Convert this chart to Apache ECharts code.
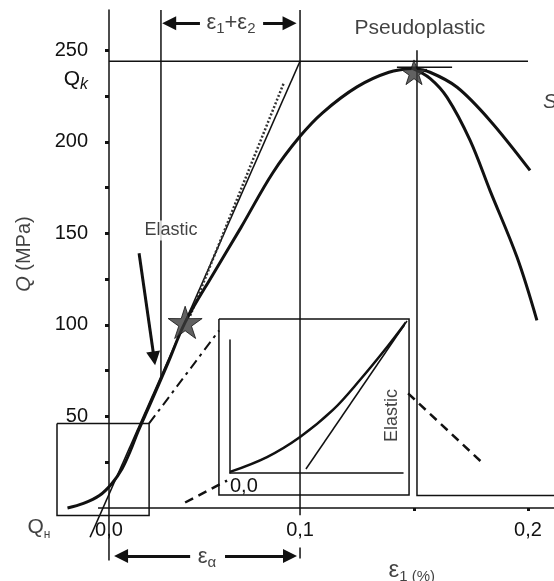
<!DOCTYPE html>
<html>
<head>
<meta charset="utf-8">
<script src="https://cdn.jsdelivr.net/npm/echarts@6/dist/echarts.min.js"></script>
<style>
  html, body { margin: 0; background: #fff; }
  #chart { width: 554px; height: 581px; }
</style>
</head>
<body>
<div id="chart"></div>
<script>
const FONT = '"Liberation Sans", Arial, Helvetica, sans-serif';
const INK = '#111111';

// axis labels and ticks
const xLabelVals = [0.0162, 0.1, 0.2];
const xLabelText = ['0,0', '0,1', '0,2'];
const xTickVals = [0.15, 0.2];
const yLabelVals = [50, 100, 150, 200, 234, 250];
const yLabelText = ['50', '100', '150', '200', '{q|Q}{qk|k}', '250'];
const yTickVals = [25, 50, 75, 100, 125, 150, 175, 200, 225, 250];

// stress-strain curve, eps1 in %, Q in MPa
const riseEps = [-0.002, 0.005, 0.012, 0.0175, 0.022, 0.0255, 0.029, 0.034, 0.042, 0.0496, 0.062, 0.074, 0.088, 0.1, 0.11, 0.125, 0.139, 0.1496];
const riseQ = [0, 2.5, 6.8, 13.4, 21.6, 31, 42, 56, 79, 101.4, 128, 153, 183, 203, 216, 230, 238, 240];
const softEps = [0.1496, 0.157, 0.1689, 0.1833, 0.2009];
const softQ = [240, 238, 229.8, 211.7, 184.4];
const brittleEps = [0.1496, 0.157, 0.1645, 0.1746, 0.1833, 0.1952, 0.2039];
const brittleQ = [240, 234.7, 224.3, 200.8, 173.5, 136.9, 102.5];

// elastic reference lines
const elasticEps = [0.0079, 0.1];
const elasticQ = [-16, 244];
const dottedEps = [0.0518, 0.093];
const dottedQ = [105, 232.5];

// marked points
const starEps = [0.0496, 0.15];
const starQ = [101.4, 238];

// inset, normalised units
const insetX = [0, 0.214, 0.405, 0.595, 0.751, 0.908, 1.023];
const insetY = [0.008, 0.12, 0.271, 0.474, 0.699, 0.947, 1.143];
const insetTanX = [0.439, 1.023];
const insetTanY = [0.03, 1.143];
const insetFrame = [[-0.064, 1.158], [1.035, 1.158], [1.035, -0.165], [-0.064, -0.165], [-0.064, 1.158]];

// construction lines
const guides = [
  [[0.0114, 0], [0.2114, 0]],
  [[0.0162, 0], [0.0162, -28.7]],
  [[0.0162, 244], [0.2, 244]],
  [[0.039, 272], [0.039, 70]],
  [[0.1, 272], [0.1, -4]],
  [[0.1, -21.6], [0.1, -27.6]],
  [[0.1513, 250], [0.1513, 6.8], [0.2114, 6.8]],
  [[0.1425, 240.7], [0.1667, 240.7]],
  [[-0.0066, 46.2], [0.0338, 46.2], [0.0338, -4.1], [-0.0066, -4.1], [-0.0066, 46.2]]
];
const dashDot = [[[0.0338, 46.2], [0.0645, 97]]];
const dashed = [[[0.0496, 3], [0.068, 15]], [[0.1474, 62.6], [0.1803, 24.3]]];
const arrows = [
  [[0.0561, 264.8], [0.0426, 264.8]],
  [[0.0838, 264.8], [0.0954, 264.8]],
  [[0.0518, -26.2], [0.0215, -26.2]],
  [[0.0671, -26.2], [0.0956, -26.2]],
  [[0.0294, 139.1], [0.036, 81.7]]
];

// text notes: text, eps, Q, kind
const notes = [
  ['Pseudoplastic', 0.1526, 262, 'plain'],
  ['Elastic', 0.0434, 151.6, 'boxed'],
  ['Elastic', 0.1404, 50.5, 'vertical'],
  ['S', 0.2066, 221.6, 'left'],
  ['{e|ε}{s|1}{e|+ε}{s|2}', 0.0697, 264.8, 'plain'],
  ['{e|ε}{s|α}', 0.0592, -26.8, 'plain'],
  ['{E|ε}{t|1 (%)}', 0.149, -34, 'plain'],
  ['{qi|Q}{n| (MPa)}', -0.021, 138.7, 'vertical'],
  ['{q|Q}{qn|н}', -0.0145, -10.5, 'plain']
];

const pairs = (xs, ys) => xs.map((x, i) => [x, ys[i]]);
const pick = (vals, texts, v) => {
  const i = vals.findIndex(a => Math.abs(a - v) < 1e-6);
  return i < 0 ? '' : texts[i];
};

const richText = {
  e: { fontSize: 22, lineHeight: 26, fontFamily: FONT, color: INK },
  s: { fontSize: 15, lineHeight: 15, verticalAlign: 'bottom', fontFamily: FONT, color: INK },
  E: { fontSize: 24, lineHeight: 28, fontFamily: FONT, color: INK },
  t: { fontSize: 15, lineHeight: 15, verticalAlign: 'bottom', fontFamily: FONT, color: INK },
  qi: { fontSize: 20, fontStyle: 'italic', fontFamily: FONT, color: INK },
  n: { fontSize: 20, fontFamily: FONT, color: INK },
  q: { fontSize: 21, lineHeight: 26, fontFamily: FONT, color: INK },
  qk: { fontSize: 16, lineHeight: 16, fontStyle: 'italic', verticalAlign: 'bottom', fontFamily: FONT, color: INK },
  qn: { fontSize: 12, lineHeight: 14, verticalAlign: 'bottom', fontFamily: FONT, color: INK }
};

const noteLabel = kind => {
  const base = { show: true, position: 'inside', fontFamily: FONT, color: INK, fontSize: 21, rich: richText };
  if (kind === 'boxed') return Object.assign(base, { fontSize: 18, backgroundColor: '#fff', padding: [1, 2] });
  if (kind === 'vertical') return Object.assign(base, { fontSize: 18, rotate: 90 });
  if (kind === 'left') return Object.assign(base, { fontStyle: 'italic', align: 'left' });
  return base;
};

const STAR = 'path://M50,4 L60.6,37.4 L95.7,37.2 L67.1,57.6 L78.2,90.8 L50,70 L21.8,90.8 L32.9,57.6 L4.3,37.2 L39.4,37.4 Z';

const segs = (list, width, type, extra) => Object.assign({
  type: 'lines', coordinateSystem: 'cartesian2d', polyline: true, silent: true, clip: false,
  lineStyle: { color: INK, width: width, type: type || 'solid', opacity: 1 },
  data: list.map(c => ({ coords: c })), z: 3
}, extra || {});

const curve = (data, width, extra) => Object.assign({
  type: 'line', data: data, smooth: 0.35, symbol: 'none', clip: false, silent: true,
  lineStyle: { color: INK, width: width }, z: 4
}, extra || {});

const chart = echarts.init(document.getElementById('chart'));
chart.setOption({
  animation: false,
  backgroundColor: '#fff',
  grid: [
    { left: 57, right: 0, top: 10, bottom: 73, containLabel: false, outerBoundsMode: 'none' },
    { left: 230, top: 340, width: 173, height: 133, containLabel: false, outerBoundsMode: 'none' }
  ],
  xAxis: [{
    type: 'value', min: -0.0066, max: 0.2114,
    axisLine: { show: false },
    axisTick: { show: true, customValues: xTickVals, length: 3, lineStyle: { color: INK, width: 3 } },
    axisLabel: {
      customValues: xLabelVals, formatter: v => pick(xLabelVals, xLabelText, v),
      margin: 12, fontSize: 20, color: INK, fontFamily: FONT
    },
    splitLine: { show: false }
  }, {
    type: 'value', gridIndex: 1, min: 0, max: 1,
    axisLine: { lineStyle: { color: INK, width: 1.5 } },
    axisTick: { show: false },
    axisLabel: { customValues: [0], formatter: () => '0,0', align: 'left', margin: 3, fontSize: 20, color: INK, fontFamily: FONT },
    splitLine: { show: false }
  }],
  yAxis: [{
    type: 'value', min: 0, max: 272, offset: -52,
    axisLine: { show: true, onZero: false, lineStyle: { color: INK, width: 1.5 } },
    axisTick: { show: true, customValues: yTickVals, length: 4, lineStyle: { color: INK, width: 3 } },
    axisLabel: {
      customValues: yLabelVals, formatter: v => pick(yLabelVals, yLabelText, v),
      margin: 21, fontSize: 20, color: INK, fontFamily: FONT, rich: richText
    },
    splitLine: { show: false }
  }, {
    type: 'value', gridIndex: 1, min: 0, max: 1,
    axisLine: { show: true, onZero: false, lineStyle: { color: INK, width: 1.5 } },
    axisTick: { show: false }, axisLabel: { show: false }, splitLine: { show: false }
  }],
  series: [
    curve(pairs(riseEps, riseQ), 3),
    curve(pairs(softEps, softQ), 3),
    curve(pairs(brittleEps, brittleQ), 3),
    segs([pairs(elasticEps, elasticQ)], 1.6),
    segs([pairs(dottedEps, dottedQ)], 2.5, [2, 2], { lineStyle: { color: '#333', width: 2.5, type: [2, 2], opacity: 1 } }),
    segs(guides, 1.5),
    segs(dashDot, 2, [10, 5, 3, 5]),
    segs(dashed, 2.5, [9, 6]),
    segs(arrows, 3, 'solid', { polyline: false, symbol: ['none', 'triangle'], symbolSize: 14 }),
    {
      type: 'scatter', data: pairs(starEps, starQ), symbol: STAR, symbolKeepAspect: true,
      symbolSize: (v, p) => (p.dataIndex === 0 ? 34 : 26), clip: false, silent: true,
      itemStyle: { color: '#3a3a3a', borderColor: INK, borderWidth: 1 }, z: 6
    },
    curve(pairs(insetX, insetY), 2.5, { xAxisIndex: 1, yAxisIndex: 1 }),
    segs([pairs(insetTanX, insetTanY)], 1.5, 'solid', { xAxisIndex: 1, yAxisIndex: 1 }),
    segs([insetFrame], 1.5, 'solid', { xAxisIndex: 1, yAxisIndex: 1 }),
    {
      type: 'scatter', symbolSize: 1, clip: false, silent: true, z: 10,
      itemStyle: { color: 'rgba(0,0,0,0)' },
      data: notes.map(n => ({ value: [n[1], n[2]], label: Object.assign(noteLabel(n[3]), { formatter: n[0] }) }))
    }
  ]
});
</script>
</body>
</html>
